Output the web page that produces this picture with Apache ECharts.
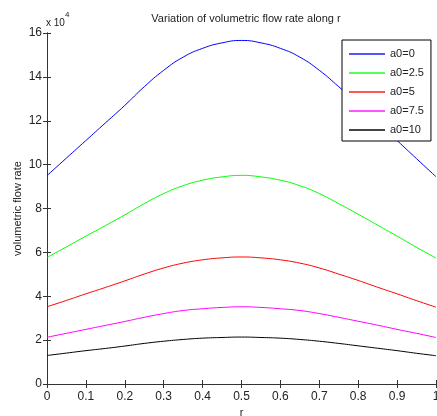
<!DOCTYPE html>
<html>
<head>
<meta charset="utf-8">
<script src="https://cdn.jsdelivr.net/npm/echarts@6/dist/echarts.min.js"></script>
<style>
html,body{margin:0;padding:0;background:#fff;}
#chart{width:437px;height:416px;}
</style>
</head>
<body>
<div id="chart"></div>
<script>
// r values
var rValues = [0,0.05,0.1,0.15,0.2,0.25,0.3,0.35,0.4,0.45,0.5,0.55,0.6,0.65,0.7,0.75,0.8,0.85,0.9,0.95,1.0];
// volumetric flow rate (x 10^4)
var a0_0   = [9.50,10.30,11.10,11.90,12.70,13.55,14.30,14.90,15.30,15.55,15.66,15.55,15.30,14.90,14.30,13.55,12.75,11.93,11.10,10.27,9.45];
var a0_2_5 = [5.77,6.25,6.74,7.22,7.71,8.22,8.68,9.04,9.29,9.44,9.51,9.44,9.29,9.04,8.68,8.22,7.74,7.24,6.74,6.23,5.74];
var a0_5   = [3.52,3.81,4.11,4.40,4.70,5.01,5.29,5.51,5.66,5.75,5.79,5.75,5.66,5.51,5.29,5.01,4.72,4.41,4.11,3.80,3.50];
var a0_7_5 = [2.13,2.31,2.49,2.67,2.85,3.04,3.21,3.35,3.43,3.49,3.52,3.49,3.43,3.35,3.21,3.04,2.86,2.68,2.49,2.31,2.12];
var a0_10  = [1.30,1.41,1.52,1.62,1.73,1.85,1.95,2.03,2.09,2.12,2.14,2.12,2.09,2.03,1.95,1.85,1.74,1.63,1.52,1.40,1.29];
var seriesNames = ['a0=0','a0=2.5','a0=5','a0=7.5','a0=10'];
var seriesColors = ['#0000ff','#00ff00','#ff0000','#ff00ff','#000000'];
var seriesValues = [a0_0, a0_2_5, a0_5, a0_7_5, a0_10];
var xTickLabels = ['0','0.1','0.2','0.3','0.4','0.5','0.6','0.7','0.8','0.9','1'];

var FONT = 'Liberation Sans, Arial, sans-serif';
var chart = echarts.init(document.getElementById('chart'));

function pairs(vals){ return rValues.map(function(r,i){ return [r, vals[i]]; }); }

var axisLine = {show:true, lineStyle:{color:'#333', width:1}};
var axisTick = {show:true, inside:true, length:4, lineStyle:{color:'#333'}};
var legendColors = ['#5555ff','#55ff55','#ff5555','#ff55ff','#444444'];

var option = {
  backgroundColor:'#fff',
  animation:false,
  title:{
    text:'Variation of volumetric flow rate along r',
    left:241, top:8, textAlign:'center',
    textStyle:{fontFamily:FONT, fontSize:11, fontWeight:'normal', color:'#222'}
  },
  graphic:[{
    type:'text', left:46, top:18,
    style:{text:'x 10', font:'10px ' + FONT, fill:'#222'}
  },{
    type:'text', left:65, top:11,
    style:{text:'4', font:'8px ' + FONT, fill:'#222'}
  }],
  grid:{left:47, top:33, right:1, bottom:32, containLabel:false, outerBoundsMode:'none'},
  legend:{
    orient:'vertical', left:342, top:40,
    padding:[7,7,4,7],
    icon:'rect',
    itemWidth:36, itemHeight:2, itemGap:5, itemTextGap:6,
    itemStyle:{borderWidth:0},
    backgroundColor:'#fff', borderColor:'#000', borderWidth:1,
    textStyle:{fontFamily:FONT, fontSize:11, color:'#222', lineHeight:14},
    data:seriesNames.map(function(n,i){
      return {name:n, itemStyle:{color:legendColors[i], borderWidth:0}};
    })
  },
  xAxis:[{
    type:'value', min:0, max:1, interval:0.1,
    name:'r', nameLocation:'middle', nameGap:23,
    nameTextStyle:{fontFamily:FONT, fontSize:11, color:'#222'},
    axisLine:axisLine, axisTick:axisTick, splitLine:{show:false},
    axisLabel:{fontFamily:FONT, fontSize:12, color:'#222', margin:7,
      formatter:function(v){ var i=Math.round(v*10); return xTickLabels[i]; }}
  },{
    type:'value', position:'top', min:0, max:1, interval:0.1,
    axisLine:axisLine, axisTick:axisTick, axisLabel:{show:false}, splitLine:{show:false}
  }],
  yAxis:[{
    type:'value', min:0, max:16, interval:2,
    name:'volumetric flow rate', nameLocation:'middle', nameGap:24, nameRotate:90,
    nameMoveOverlap:false,
    nameTextStyle:{fontFamily:FONT, fontSize:11, color:'#222'},
    axisLine:axisLine, axisTick:axisTick, splitLine:{show:false},
    axisLabel:{fontFamily:FONT, fontSize:12, color:'#222', margin:5}
  },{
    type:'value', position:'right', min:0, max:16, interval:2,
    axisLine:axisLine, axisTick:axisTick, axisLabel:{show:false}, splitLine:{show:false}
  }],
  series: seriesNames.map(function(n,i){
    return {
      name:n, type:'line', data:pairs(seriesValues[i]),
      xAxisIndex:0, yAxisIndex:0,
      symbol:'none', smooth:0.5,
      lineStyle:{color:seriesColors[i], width:1},
      itemStyle:{color:seriesColors[i]}
    };
  })
};
chart.setOption(option);
</script>
</body>
</html>
